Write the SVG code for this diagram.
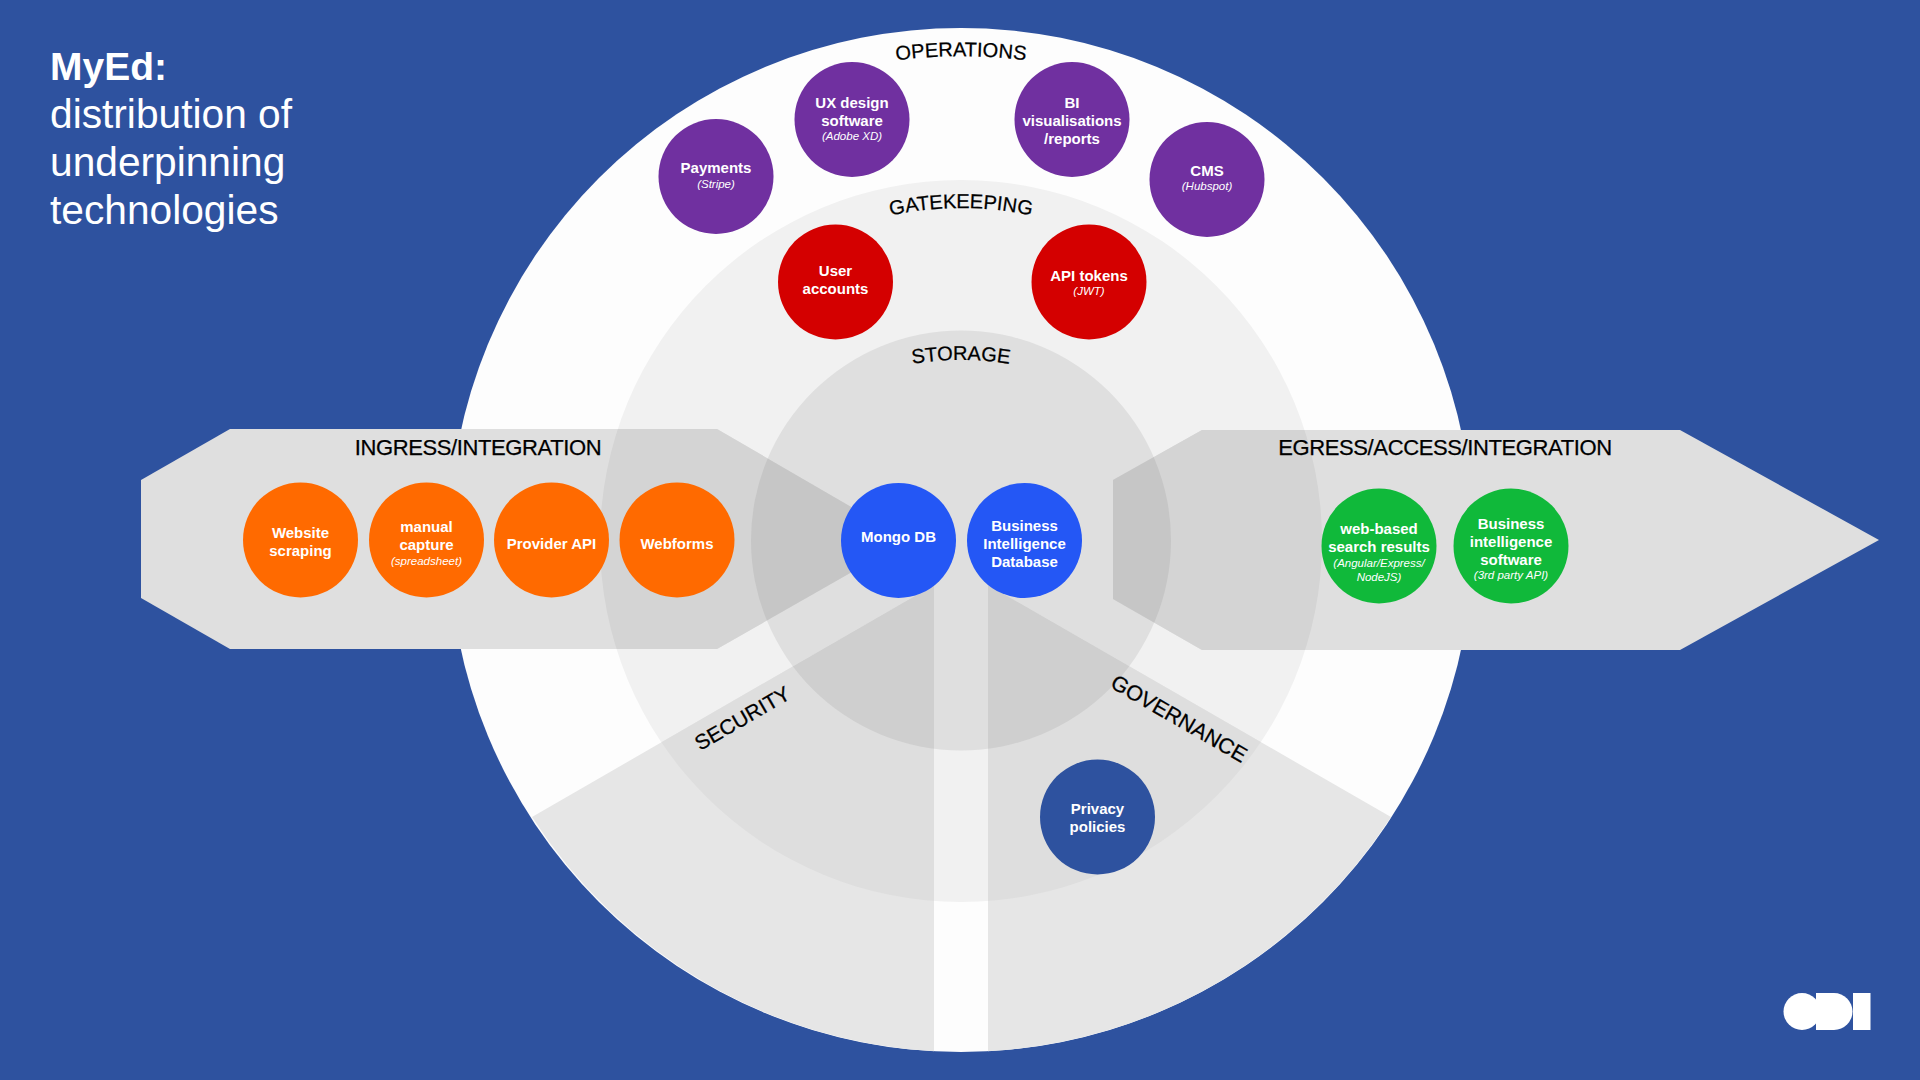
<svg xmlns="http://www.w3.org/2000/svg" width="1920" height="1080" viewBox="0 0 1920 1080">
<style>
text{font-family:"Liberation Sans",Arial,sans-serif}
.n{font-size:15px;font-weight:700;fill:#fff;text-anchor:middle}
.s{font-size:11.5px;font-style:italic;fill:#fff;text-anchor:middle}
.l{font-size:20px;fill:#000;stroke:#000;stroke-width:.25px;text-anchor:middle}
.h{font-size:22px;letter-spacing:-.38px;fill:#000;stroke:#000;stroke-width:.25px;text-anchor:middle}
.p{fill:#7030A0}.r{fill:#D40000}.o{fill:#FF6A00}.b{fill:#2457F5}.g{fill:#10B93A}.d{fill:#2E529F}
.t{font-size:40.7px;fill:#fff}
</style>
<defs>
<clipPath id="cm"><circle cx="961" cy="541" r="361"/></clipPath>
<clipPath id="ci"><circle cx="961" cy="540.5" r="210"/></clipPath>
<path id="secL" d="M934 585L532 817A512 512 0 0 0 934 1051.3Z"/>
<path id="secR" d="M988 585L1391 817A512 512 0 0 1 988 1051.3Z"/>
<path id="ing" d="M141 480L230 429H717L908 540L717 649H230L141 598Z"/>
<path id="egr" d="M1113 480L1202 430H1680L1879 540L1680 650H1202L1113 599Z"/>
<path id="aO" d="M477 540A484 484 0 0 1 1445 540"/>
<path id="aG" d="M629 540A332 332 0 0 1 1293 540"/>
<path id="aS" d="M661 660A300 300 0 0 1 1261 660"/>
</defs>
<rect width="1920" height="1080" fill="#2E529F"/>
<g id="title">
<text x="50" y="80" style="font-size:39px;font-weight:700" fill="#fff">MyEd:</text>
<text class="t" x="50" y="128">distribution of</text>
<text class="t" x="50" y="176">underpinning</text>
<text class="t" x="50" y="224">technologies</text>
</g>
<g id="rings">
<circle cx="961" cy="540" r="512" fill="#FDFDFD"/>
<circle cx="961" cy="541" r="361" fill="#F1F1F1"/>
<circle cx="961" cy="540.5" r="210" fill="#DFDFDF"/>
</g>
<g id="connectors">
<use href="#secL" fill="#E6E6E6"/><use href="#secR" fill="#E6E6E6"/>
<g clip-path="url(#cm)"><use href="#secL" fill="#DEDEDE"/><use href="#secR" fill="#DEDEDE"/></g>
<g clip-path="url(#ci)"><use href="#secL" fill="#CFCFCF"/><use href="#secR" fill="#CFCFCF"/></g>
<use href="#ing" fill="#DFDFDF"/><use href="#egr" fill="#DFDFDF"/>
<g clip-path="url(#cm)"><use href="#ing" fill="#D4D4D4"/><use href="#egr" fill="#D4D4D4"/></g>
<g clip-path="url(#ci)"><use href="#ing" fill="#C6C6C6"/><use href="#egr" fill="#C6C6C6"/></g>
</g>
<g id="labels">
<text class="l"><textPath href="#aO" startOffset="50%">OPERATIONS</textPath></text>
<text class="l"><textPath href="#aG" startOffset="50%">GATEKEEPING</textPath></text>
<text class="l"><textPath href="#aS" startOffset="50%">STORAGE</textPath></text>
<text class="h" x="478" y="455">INGRESS/INTEGRATION</text>
<text class="h" x="1445" y="455">EGRESS/ACCESS/INTEGRATION</text>
<text class="l" style="font-size:21px" transform="translate(746 724.5) rotate(-30)">SECURITY</text>
<text class="l" style="font-size:21.5px" transform="translate(1175.5 725) rotate(30)">GOVERNANCE</text>
</g>
<g id="payments"><circle class="p" cx="716" cy="176.5" r="57.5"/><text class="n" x="716" y="173">Payments</text><text class="s" x="716" y="188">(Stripe)</text></g>
<g id="ux"><circle class="p" cx="852" cy="119.5" r="57.5"/><text class="n" x="852" y="108">UX design</text><text class="n" x="852" y="126">software</text><text class="s" x="852" y="140">(Adobe XD)</text></g>
<g id="bi"><circle class="p" cx="1072" cy="119.5" r="57.5"/><text class="n" x="1072" y="108">BI</text><text class="n" x="1072" y="126">visualisations</text><text class="n" x="1072" y="144">/reports</text></g>
<g id="cms"><circle class="p" cx="1207" cy="179.5" r="57.5"/><text class="n" x="1207" y="176">CMS</text><text class="s" x="1207" y="190">(Hubspot)</text></g>
<g id="user"><circle class="r" cx="835.5" cy="282" r="57.5"/><text class="n" x="835.5" y="276">User</text><text class="n" x="835.5" y="294">accounts</text></g>
<g id="api"><circle class="r" cx="1089" cy="282" r="57.5"/><text class="n" x="1089" y="281">API tokens</text><text class="s" x="1089" y="295">(JWT)</text></g>
<g id="scraping"><circle class="o" cx="300.5" cy="540" r="57.5"/><text class="n" x="300.5" y="538">Website</text><text class="n" x="300.5" y="556">scraping</text></g>
<g id="manual"><circle class="o" cx="426.5" cy="540" r="57.5"/><text class="n" x="426.5" y="532">manual</text><text class="n" x="426.5" y="550">capture</text><text class="s" x="426.5" y="565">(spreadsheet)</text></g>
<g id="provider"><circle class="o" cx="551.5" cy="540" r="57.5"/><text class="n" x="551.5" y="549">Provider API</text></g>
<g id="webforms"><circle class="o" cx="677" cy="540" r="57.5"/><text class="n" x="677" y="549">Webforms</text></g>
<g id="mongo"><circle class="b" cx="898.5" cy="540.5" r="57.5"/><text class="n" x="898.5" y="542">Mongo DB</text></g>
<g id="bidb"><circle class="b" cx="1024.5" cy="540.5" r="57.5"/><text class="n" x="1024.5" y="531">Business</text><text class="n" x="1024.5" y="549">Intelligence</text><text class="n" x="1024.5" y="567">Database</text></g>
<g id="search"><circle class="g" cx="1379" cy="546" r="57.5"/><text class="n" x="1379" y="534">web-based</text><text class="n" x="1379" y="552">search results</text><text class="s" x="1379" y="567">(Angular/Express/</text><text class="s" x="1379" y="581">NodeJS)</text></g>
<g id="bisoft"><circle class="g" cx="1511" cy="546" r="57.5"/><text class="n" x="1511" y="529">Business</text><text class="n" x="1511" y="547">intelligence</text><text class="n" x="1511" y="565">software</text><text class="s" x="1511" y="579">(3rd party API)</text></g>
<g id="privacy"><circle class="d" cx="1097.5" cy="817" r="57.5"/><text class="n" x="1097.5" y="814">Privacy</text><text class="n" x="1097.5" y="832">policies</text></g>
<g id="logo" fill="#fff"><title>ODI</title><circle cx="1802" cy="1011.5" r="18.5"/><rect x="1816" y="993" width="18" height="37"/><circle cx="1834" cy="1011.5" r="18.5"/><rect x="1853" y="993" width="17.5" height="37"/></g>
</svg>
